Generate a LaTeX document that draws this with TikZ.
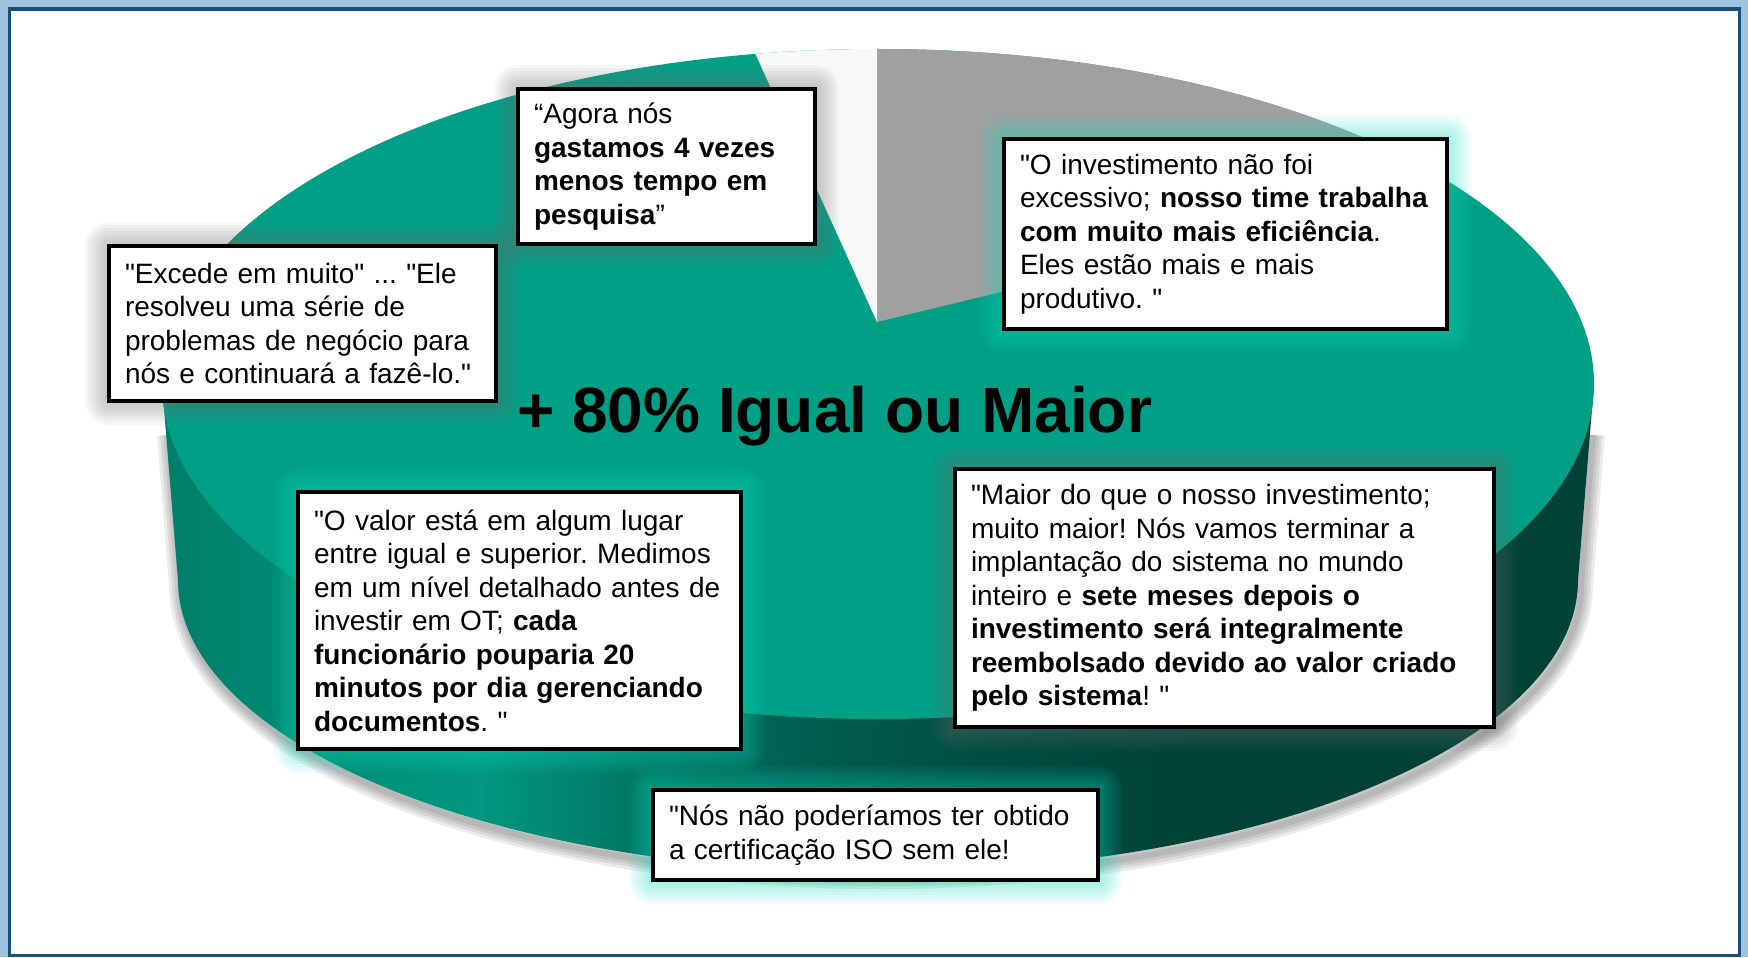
\documentclass[tikz,border=0pt]{standalone}
\usepackage{fontspec}
\setmainfont{Liberation Sans}[Ligatures=TeXOff]

\definecolor{framelight}{RGB}{157,195,222}
\definecolor{frameblue}{RGB}{24,78,119}
\definecolor{pietop}{RGB}{0,160,135}
\definecolor{piegray}{RGB}{160,160,160}
\definecolor{piewhite}{RGB}{248,248,248}
\definecolor{sideA}{RGB}{0,126,105}
\definecolor{sideB}{RGB}{0,140,117}
\definecolor{sideC}{RGB}{0,152,128}
\definecolor{sideD}{RGB}{0,122,103}
\definecolor{sideE}{RGB}{0,95,80}
\definecolor{sideF}{RGB}{0,76,64}
\definecolor{sideG}{RGB}{0,66,55}
\definecolor{glowcyan}{RGB}{20,225,190}
\definecolor{glowgray}{RGB}{110,110,110}

% side of the pie, dark to the right
\pgfdeclarehorizontalshading{pieside}{100bp}{%
  color(0bp)=(sideA); color(25bp)=(sideA); color(29.8bp)=(sideB);
  color(36.1bp)=(sideC); color(41bp)=(sideD); color(47.3bp)=(sideE);
  color(54.3bp)=(sideF); color(61.2bp)=(sideG); color(100bp)=(sideG)}

\begin{document}
\frenchspacing
\begin{tikzpicture}[
    x = 0.5pt, % one unit is one pixel of the slide
    y = -0.5pt, % y counts downwards
    quote/.style = {draw = black, line width = 1.75pt, fill = white,
        align = left, inner xsep = 8pt, inner ysep = 0pt,
        font = \fontsize{14pt}{16.75pt}\selectfont},
    glowring/.style = {preaction = {draw = #1, opacity = .055, line join = round}},
    halo/.style = {
        glowring = {#1, line width = 24pt}, glowring = {#1, line width = 21pt},
        glowring = {#1, line width = 18pt}, glowring = {#1, line width = 15pt},
        glowring = {#1, line width = 12pt}, glowring = {#1, line width = 9pt},
        glowring = {#1, line width = 6pt}, glowring = {#1, line width = 3pt}}
    ]

    % frame
    \useasboundingbox (0,0) rectangle (1748,957);
    \fill[framelight] (0,0) rectangle (1748,957);
    \fill[white] (11,11) rectangle (1738,954);
    \draw[frameblue, line width = 1.75pt] (9.5,9) rectangle (1739.5,955.5);

    % shadow and side of the pie
    \foreach \w in {3,6,9,12}
        \draw[black, opacity = .08, line width = \w pt, line join = round, shift = {(3,5)}]
            (166,430) -- (178,580) arc [start angle = 180, end angle = 0,
            x radius = 700, y radius = 292] -- (1590,430);
    \shade[shading = pieside] (162,384) -- (178,580) arc [start angle = 180,
        end angle = 0, x radius = 700, y radius = 292] -- (1594,384) -- cycle;

    % top of the pie
    \fill[pietop] (878,384) ellipse [x radius = 716, y radius = 335];
    \begin{scope}
        \clip (878,384) ellipse [x radius = 716, y radius = 335];
        \fill[piegray] (877,322) -- (877,0) -- (1700,0) -- (1700,123) -- cycle;
        \fill[piewhite] (877,322) -- (731,0) -- (877,0) -- cycle;
    \end{scope}

    \node[font = \fontsize{32pt}{38pt}\selectfont\bfseries, anchor = base]
        (title) at (834.5,432) {+ 80\% Igual ou Maior};

    \node[quote, halo = glowgray, text width = 132.5pt, minimum height = 77.5pt]
        (agora) at (666.5,166.5) {“Agora nós\\ \textbf{gastamos 4 vezes}\\
        \textbf{menos tempo em}\\ \textbf{pesquisa}”};
    \node[quote, halo = glowgray, text width = 177.5pt, minimum height = 77.5pt]
        (excede) at (302.5,323.5) {"Excede em muito" ... "Ele\\
        resolveu uma série de\\ problemas de negócio para\\
        nós e continuará a fazê-lo."};
    \node[quote, halo = glowcyan, text width = 205.5pt, minimum height = 95pt]
        (invest) at (1225.5,234) {"O investimento não foi\\
        excessivo; \textbf{nosso time trabalha}\\
        \textbf{com muito mais eficiência}.\\ Eles estão mais e mais\\
        produtivo. "};
    \node[quote, halo = glowcyan, text width = 205.5pt, minimum height = 128.5pt]
        (valor) at (519.5,620.5) {"O valor está em algum lugar\\
        entre igual e superior. Medimos\\ em um nível detalhado antes de\\
        investir em OT; \textbf{cada}\\ \textbf{funcionário pouparia 20}\\
        \textbf{minutos por dia gerenciando}\\ \textbf{documentos}. "};
    \node[quote, halo = glowgray, text width = 253.5pt, minimum height = 129pt]
        (maior) at (1224.5,598) {"Maior do que o nosso investimento;\\
        muito maior! Nós vamos terminar a\\ implantação do sistema no mundo\\
        inteiro e \textbf{sete meses depois o}\\
        \textbf{investimento será integralmente}\\
        \textbf{reembolsado devido ao valor criado}\\ \textbf{pelo sistema}! "};
    \node[quote, halo = glowcyan, text width = 206.5pt, minimum height = 45pt]
        (iso) at (875.5,835) {"Nós não poderíamos ter obtido\\
        a certificação ISO sem ele!};
\end{tikzpicture}
\end{document}
